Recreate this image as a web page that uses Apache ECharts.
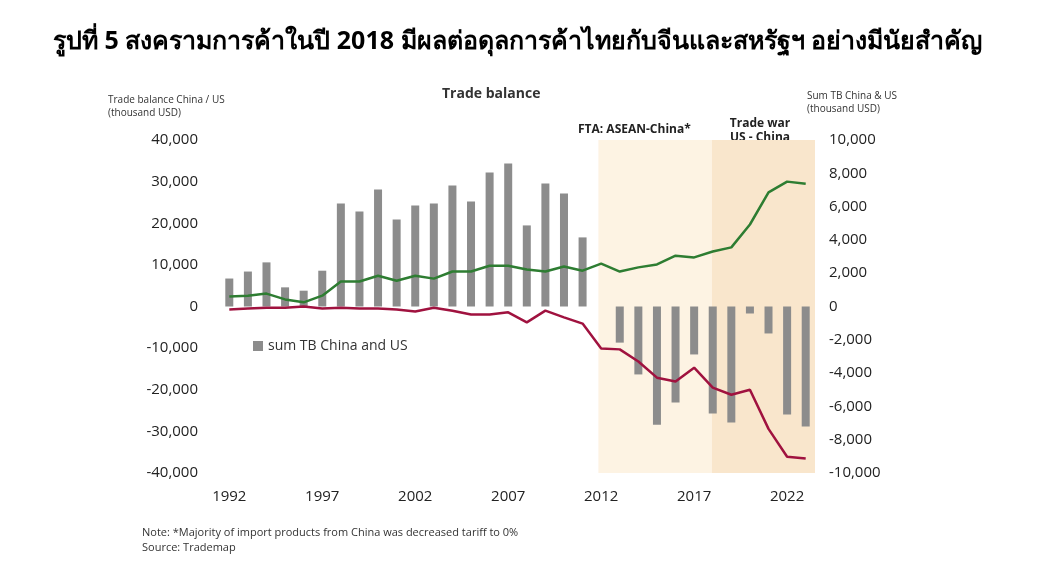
<!DOCTYPE html>
<html>
<head>
<meta charset="utf-8">
<script src="https://cdn.jsdelivr.net/npm/echarts@6/dist/echarts.min.js"></script>
<style>
  html, body { margin: 0; padding: 0; background: #fff; }
  #chart { width: 1037px; height: 575px; }
</style>
</head>
<body>
<div id="chart"></div>
<script>
  var years = ['1992','1993','1994','1995','1996','1997','1998','1999','2000','2001','2002','2003','2004','2005','2006','2007',
               '2008','2009','2010','2011','2012','2013','2014','2015','2016','2017','2018','2019','2020','2021','2022','2023']
  // sum TB China & US (right axis)
  var sumTB = [1680, 2100, 2650, 1150, 950, 2150, 6180, 5700, 7030, 5230, 6070, 6180, 7260, 6300, 8050, 8590,
               4870, 7380, 6790, 4150, 0, -2170, -4080, -7100, -5770, -2880, -6430, -6970, -420, -1620, -6490, -7210]
  // trade balance (left axis)
  var usTB = [2400, 2600, 3100, 1700, 1000, 2600, 6000, 6000, 7400, 6200, 7400, 6700, 8400, 8400, 9800, 9800,
              8900, 8400, 9600, 8600, 10300, 8400, 9400, 10100, 12200, 11800, 13200, 14200, 19700, 27400, 30000, 29500]
  var chinaTB = [-700, -500, -300, -300, 0, -500, -300, -500, -500, -700, -1200, -300, -1000, -1900, -1900, -1400,
                 -3800, -1000, -2600, -4100, -10100, -10300, -13200, -17100, -18000, -14700, -19500, -21200, -20000, -29400, -36100, -36500]

  var myChart = echarts.init(document.getElementById('chart'))
  var font = 'Open Sans, Noto Sans, sans-serif'
  var fmt = function(v) { return echarts.format.addCommas(v) }

  option = {
      animation: false,
      title: [{
          text: 'รูปที่ 5 สงครามการค้าในปี 2018 มีผลต่อดุลการค้าไทยกับจีนและสหรัฐฯ อย่างมีนัยสำคัญ',
          left: 48, top: 24,
          textStyle: { fontFamily: 'Noto Sans, sans-serif', fontSize: 25, fontWeight: 'bold', color: '#000' }
      }, {
          text: 'Trade balance', left: 437, top: 82,
          textStyle: { fontFamily: font, fontSize: 14, fontWeight: 'bold', color: '#333' }
      }, {
          text: 'Note: *Majority of import products from China was decreased tariff to 0%\nSource: Trademap',
          left: 137, top: 520,
          textStyle: { fontFamily: font, fontSize: 11, fontWeight: 'normal', color: '#333', lineHeight: 15 }
      }],
      legend: {
          data: [{ name: 'sum TB China and US', icon: 'rect' }],
          left: 248, top: 334, itemWidth: 10, itemHeight: 10,
          textStyle: { fontFamily: font, fontSize: 14, color: '#333' }
      },
      grid: { left: 220, right: 222, top: 140, bottom: 102 },
      xAxis: [{
          type: 'category', data: years,
          axisLine: { show: false }, axisTick: { show: false },
          axisLabel: { interval: 4, fontFamily: font, fontSize: 15, color: '#222', margin: 16 },
          position: 'bottom'
      }, {
          type: 'value', min: 1991.5, max: 2023.5, show: false
      }],
      yAxis: [{
          type: 'value', min: -40000, max: 40000, interval: 10000,
          name: 'Trade balance China / US\n(thousand USD)', nameGap: 20,
          nameTextStyle: { fontFamily: font, fontSize: 10, color: '#333', align: 'left', padding: [0, 0, 0, -112], lineHeight: 13 },
          splitLine: { show: false }, axisLine: { show: false }, axisTick: { show: false },
          axisLabel: { fontFamily: font, fontSize: 15, color: '#222', margin: 22, formatter: fmt }
      }, {
          type: 'value', min: -10000, max: 10000, interval: 2000,
          name: 'Sum TB China & US\n(thousand USD)', nameGap: 24,
          nameTextStyle: { fontFamily: font, fontSize: 10, color: '#333', align: 'left', padding: [0, 0, 0, -8], lineHeight: 13 },
          splitLine: { show: false }, axisLine: { show: false }, axisTick: { show: false },
          axisLabel: { fontFamily: font, fontSize: 15, color: '#222', margin: 14, formatter: fmt }
      }],
      series: [{
          type: 'line', xAxisIndex: 1, yAxisIndex: 0, data: [], silent: true,
          markArea: {
              silent: true,
              data: [
                  [{ xAxis: 2011.85, itemStyle: { color: '#fdf3e3' } }, { xAxis: 2017.95 }],
                  [{ xAxis: 2017.95, itemStyle: { color: '#f9e6cc' } }, { xAxis: 2023.5 }]
              ]
          }
      }, {
          name: 'sum TB China and US', type: 'bar', yAxisIndex: 1, data: sumTB,
          barWidth: 8, itemStyle: { color: '#8c8c8c' }
      }, {
          name: 'US', type: 'line', yAxisIndex: 0, data: usTB, symbol: 'none',
          lineStyle: { color: '#2e7d32', width: 2.5 }
      }, {
          name: 'China', type: 'line', yAxisIndex: 0, data: chinaTB, symbol: 'none',
          lineStyle: { color: '#a0123f', width: 2.5 }
      }],
      graphic: [
          { type: 'text', left: 578, top: 124, style: { text: 'FTA: ASEAN-China*', font: 'bold 12px Open Sans', fill: '#222' } },
          { type: 'text', x: 760, y: 117, style: { text: 'Trade war\nUS - China', font: 'bold 12px Open Sans', fill: '#222', textAlign: 'center', lineHeight: 14 } },
          { type: 'text', left: 762, top: 160, style: { text: 'US', font: 'bold 16px Open Sans', fill: '#2e7d32' } },
          { type: 'text', left: 720, top: 452, style: { text: 'China', font: 'bold 16px Open Sans', fill: '#a0123f' } }
      ]
  }
  myChart.setOption(option)
</script>
</body>
</html>
